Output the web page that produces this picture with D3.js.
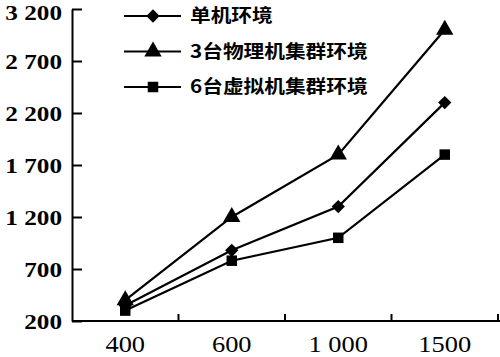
<!DOCTYPE html>
<html><head><meta charset="utf-8">
<script src="https://cdn.jsdelivr.net/npm/d3@7"></script>
<style>body{margin:0;background:#fff}svg{display:block}</style>
</head><body>
<svg id="c" width="500" height="357"></svg>
<script>
const categories = ["400", "600", "1 000", "1500"];
const yTicks = [200, 700, 1200, 1700, 2200, 2700, 3200];
const yTickLabels = ["200", "700", "1 200", "1 700", "2 200", "2 700", "3 200"];
const seriesNames = ["单机环境", "3台物理机集群环境", "6台虚拟机集群环境"];
const singleMachine = [350, 880, 1300, 2300];
const physicalCluster = [400, 1200, 1800, 3000];
const virtualCluster = [300, 780, 1000, 1800];
const seriesValues = [singleMachine, physicalCluster, virtualCluster];
const markerTypes = [d3.symbolSquare, d3.symbolTriangle, d3.symbolSquare];
const markerRot = [45, 0, 0];
const markerSizes = [88, 130, 110];

const svg = d3.select("#c");
const L = 72, R = 498, T = 9, B = 321;
const SX = 1.2;
const x = d3.scaleBand().domain(categories).range([L, R]);
const y = d3.scaleLinear().domain([200, 3200]).range([B, T]);

// y axis
const ya = svg.append("g").attr("transform", `translate(${L},0)`)
  .call(d3.axisLeft(y).tickValues(yTicks).tickSize(-10).tickSizeOuter(0)
    .tickFormat((d, i) => yTickLabels[i]));
ya.select(".domain").attr("stroke", "#000").attr("stroke-width", 2);
ya.selectAll(".tick line").attr("stroke", "#000").attr("stroke-width", 2);
ya.selectAll(".tick text").attr("x", null).attr("dy", "0.36em")
  .attr("transform", d => `translate(-10,${y(d) - T < 5 ? 2.5 : 0}) scale(${SX},1)`)
  .attr("font-family", "Liberation Serif").attr("font-weight", "bold")
  .attr("font-size", 21).attr("fill", "#000");

// x axis
const xa = svg.append("g").attr("transform", `translate(0,${B})`);
xa.append("line").attr("x1", L).attr("x2", R + 2).attr("stroke", "#000").attr("stroke-width", 2);
const bounds = categories.map(c => x(c) + x.bandwidth());
xa.selectAll("line.tk").data(bounds).join("line").attr("class", "tk")
  .attr("x1", d => d).attr("x2", d => d).attr("y1", 0).attr("y2", -7)
  .attr("stroke", "#000").attr("stroke-width", 2);
xa.selectAll("text").data(categories).join("text")
  .attr("transform", d => `translate(${x(d) + x.bandwidth() / 2},31) scale(${1.15},1)`)
  .attr("text-anchor", "middle")
  .attr("font-family", "Liberation Serif").attr("font-size", 23).attr("fill", "#000")
  .text(d => d);

// series
const line = d3.line().x((d, i) => x(categories[i]) + x.bandwidth() / 2).y(d => y(d));
seriesValues.forEach((vals, s) => {
  svg.append("path").attr("d", line(vals)).attr("fill", "none")
    .attr("stroke", "#000").attr("stroke-width", 2.2);
  svg.selectAll(null).data(vals).join("path")
    .attr("d", d3.symbol().type(markerTypes[s]).size(markerSizes[s]))
    .attr("transform", (d, i) => `translate(${x(categories[i]) + x.bandwidth() / 2},${y(d)}) rotate(${markerRot[s]})`)
    .attr("fill", "#000");
});

// legend
const legendRows = [0, 1, 2].map(i => ({name: seriesNames[i], sym: markerTypes[i], size: markerSizes[i], rot: markerRot[i]}));
const lg = svg.append("g");
legendRows.forEach((r, i) => {
  const yy = 16 + i * 35.5;
  lg.append("line").attr("x1", 124).attr("x2", 181).attr("y1", yy).attr("y2", yy)
    .attr("stroke", "#000").attr("stroke-width", 2.2);
  lg.append("path").attr("d", d3.symbol().type(r.sym).size(r.size))
    .attr("transform", `translate(153,${yy}) rotate(${r.rot})`).attr("fill", "#000");
  lg.append("text").attr("transform", `translate(190,${yy}) scale(1.15,1)`)
    .attr("dy", "0.36em")
    .attr("font-family", "Noto Sans CJK SC").attr("font-weight", "bold")
    .attr("font-size", 18).attr("fill", "#000").text(r.name);
});
</script>
</body></html>
